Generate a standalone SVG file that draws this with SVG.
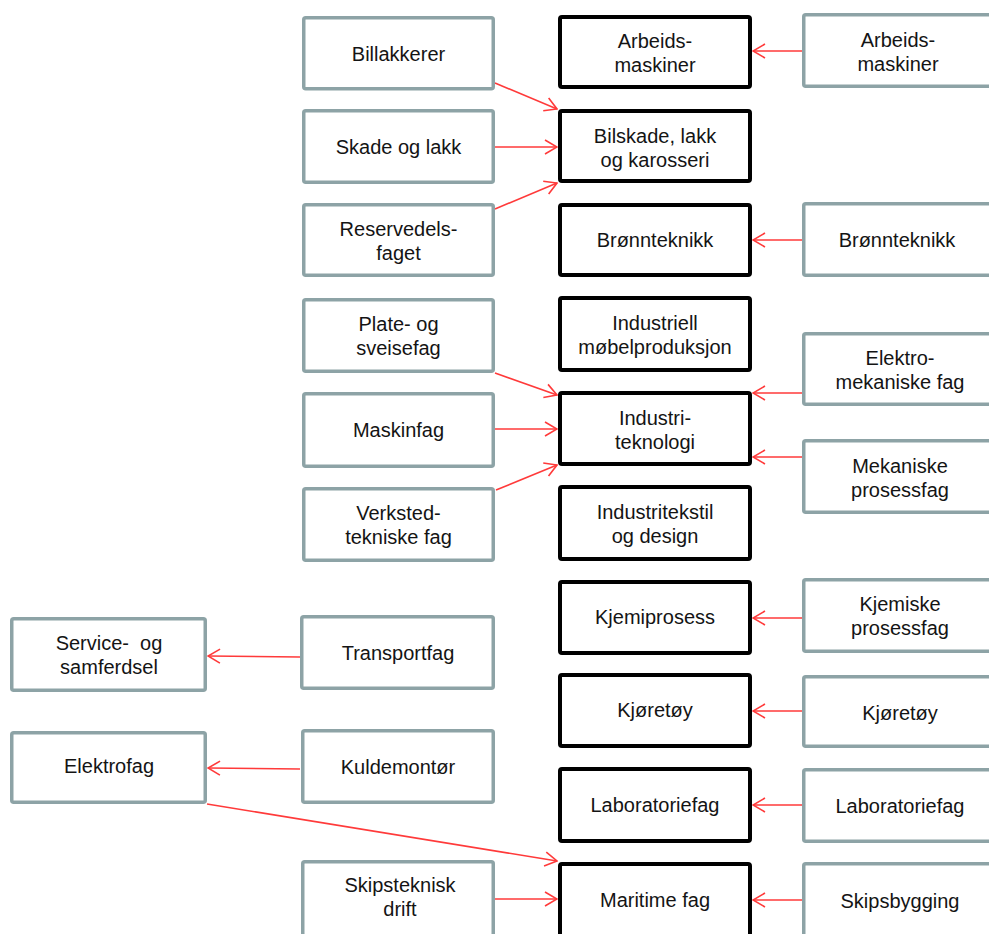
<svg xmlns="http://www.w3.org/2000/svg" width="989" height="934" viewBox="0 0 989 934">
<defs>
<style>
.g{fill:#fff;stroke:#8DA3A6;stroke-width:3.5}
.b{fill:#fff;stroke:#000;stroke-width:4}
.t{font-family:"Liberation Sans",Arial,sans-serif;font-size:20px;fill:#141414;text-anchor:middle}
.c{stroke:#FF3A3A;stroke-width:1.6;fill:none}
</style>
<marker id="ah" markerUnits="userSpaceOnUse" viewBox="0 0 14 16" refX="13" refY="8" markerWidth="14" markerHeight="16" orient="auto">
<path d="M1,1 L13,8 L1,15" fill="none" stroke="#FF3A3A" stroke-width="1.6"/>
</marker>
</defs>
<rect width="989" height="934" fill="#fff"/>

<g id="connectors">
<line class="c" x1="802" y1="51" x2="753" y2="51" marker-end="url(#ah)"/>
<line class="c" x1="495" y1="83" x2="557" y2="109" marker-end="url(#ah)"/>
<line class="c" x1="495" y1="147" x2="557" y2="147" marker-end="url(#ah)"/>
<line class="c" x1="495" y1="209" x2="557" y2="183" marker-end="url(#ah)"/>
<line class="c" x1="802" y1="240" x2="753" y2="240" marker-end="url(#ah)"/>
<line class="c" x1="495" y1="373" x2="557" y2="395" marker-end="url(#ah)"/>
<line class="c" x1="495" y1="429" x2="557" y2="429" marker-end="url(#ah)"/>
<line class="c" x1="496" y1="490" x2="557" y2="465" marker-end="url(#ah)"/>
<line class="c" x1="802" y1="393" x2="753" y2="393" marker-end="url(#ah)"/>
<line class="c" x1="802" y1="457" x2="753" y2="457" marker-end="url(#ah)"/>
<line class="c" x1="802" y1="618" x2="753" y2="618" marker-end="url(#ah)"/>
<line class="c" x1="802" y1="711" x2="753" y2="711" marker-end="url(#ah)"/>
<line class="c" x1="802" y1="805" x2="753" y2="805" marker-end="url(#ah)"/>
<line class="c" x1="802" y1="900" x2="753" y2="900" marker-end="url(#ah)"/>
<line class="c" x1="300" y1="657" x2="208" y2="656" marker-end="url(#ah)"/>
<line class="c" x1="300" y1="769" x2="208" y2="768" marker-end="url(#ah)"/>
<line class="c" x1="207" y1="804" x2="557" y2="861" marker-end="url(#ah)"/>
<line class="c" x1="495" y1="899" x2="557" y2="899" marker-end="url(#ah)"/>
</g>

<g id="billakkerer"><rect class="g" x="303.75" y="17.75" width="189.5" height="71" rx="2"/><text class="t" x="398.5" y="61">Billakkerer</text></g>
<g id="skade-og-lakk"><rect class="g" x="303.75" y="110.75" width="189.5" height="71.5" rx="2"/><text class="t" x="398.5" y="154">Skade og lakk</text></g>
<g id="reservedelsfaget"><rect class="g" x="303.75" y="204.75" width="189.5" height="70.5" rx="2"/><text class="t" x="398.5" y="236">Reservedels-</text><text class="t" x="398.5" y="260">faget</text></g>
<g id="plate-og-sveisefag"><rect class="g" x="303.75" y="299.75" width="189.5" height="71.5" rx="2"/><text class="t" x="398.5" y="331">Plate- og</text><text class="t" x="398.5" y="355">sveisefag</text></g>
<g id="maskinfag"><rect class="g" x="303.75" y="393.75" width="189.5" height="72.5" rx="2"/><text class="t" x="398.5" y="437">Maskinfag</text></g>
<g id="verkstedtekniske-fag"><rect class="g" x="303.75" y="488.75" width="189.5" height="71.5" rx="2"/><text class="t" x="398.5" y="520">Verksted-</text><text class="t" x="398.5" y="544">tekniske fag</text></g>
<g id="transportfag"><rect class="g" x="301.75" y="616.75" width="191.5" height="71.5" rx="2"/><text class="t" x="398" y="660">Transportfag</text></g>
<g id="kuldemontor"><rect class="g" x="302.75" y="730.75" width="190.5" height="71.5" rx="2"/><text class="t" x="398" y="774">Kuldemontør</text></g>
<g id="skipsteknisk-drift"><rect class="g" x="302.75" y="861.75" width="190.5" height="74" rx="2"/><text class="t" x="400" y="892">Skipsteknisk</text><text class="t" x="400" y="916">drift</text></g>

<g id="service-og-samferdsel"><rect class="g" x="11.75" y="618.75" width="193.5" height="71.5" rx="2"/><text class="t" x="109" y="650" style="white-space:pre">Service-  og</text><text class="t" x="109" y="674">samferdsel</text></g>
<g id="elektrofag"><rect class="g" x="11.75" y="732.75" width="193.5" height="69.5" rx="2"/><text class="t" x="109" y="773">Elektrofag</text></g>

<g id="arbeidsmaskiner"><rect class="b" x="560" y="17" width="190" height="70" rx="2"/><text class="t" x="655" y="48">Arbeids-</text><text class="t" x="655" y="72">maskiner</text></g>
<g id="bilskade"><rect class="b" x="560" y="111" width="190" height="70" rx="2"/><text class="t" x="655" y="143">Bilskade, lakk</text><text class="t" x="655" y="167">og karosseri</text></g>
<g id="bronnteknikk"><rect class="b" x="560" y="205" width="190" height="70" rx="2"/><text class="t" x="655" y="247">Brønnteknikk</text></g>
<g id="industriell-mobelproduksjon"><rect class="b" x="560" y="298" width="190" height="72" rx="2"/><text class="t" x="655" y="330">Industriell</text><text class="t" x="655" y="354">møbelproduksjon</text></g>
<g id="industriteknologi"><rect class="b" x="560" y="393" width="190" height="71" rx="2"/><text class="t" x="655" y="425">Industri-</text><text class="t" x="655" y="449">teknologi</text></g>
<g id="industritekstil"><rect class="b" x="560" y="487" width="190" height="72" rx="2"/><text class="t" x="655" y="519">Industritekstil</text><text class="t" x="655" y="543">og design</text></g>
<g id="kjemiprosess"><rect class="b" x="560" y="582" width="190" height="71" rx="2"/><text class="t" x="655" y="624">Kjemiprosess</text></g>
<g id="kjoretoy"><rect class="b" x="560" y="675" width="190" height="71" rx="2"/><text class="t" x="655" y="717">Kjøretøy</text></g>
<g id="laboratoriefag"><rect class="b" x="560" y="769" width="190" height="72" rx="2"/><text class="t" x="655" y="812">Laboratoriefag</text></g>
<g id="maritime-fag"><rect class="b" x="560" y="864" width="190" height="74" rx="2"/><text class="t" x="655" y="907">Maritime fag</text></g>

<g id="r-arbeidsmaskiner"><rect class="g" x="803.75" y="14.75" width="195" height="71.5" rx="2"/><text class="t" x="898" y="47">Arbeids-</text><text class="t" x="898" y="71">maskiner</text></g>
<g id="r-bronnteknikk"><rect class="g" x="803.75" y="203.75" width="195" height="71.5" rx="2"/><text class="t" x="897" y="247">Brønnteknikk</text></g>
<g id="r-elektromekaniske"><rect class="g" x="803.75" y="333.75" width="195" height="70.5" rx="2"/><text class="t" x="900" y="365">Elektro-</text><text class="t" x="900" y="389">mekaniske fag</text></g>
<g id="r-mekaniske-prosessfag"><rect class="g" x="803.75" y="440.75" width="195" height="71.5" rx="2"/><text class="t" x="900" y="473">Mekaniske</text><text class="t" x="900" y="497">prosessfag</text></g>
<g id="r-kjemiske-prosessfag"><rect class="g" x="803.75" y="579.75" width="195" height="71.5" rx="2"/><text class="t" x="900" y="611">Kjemiske</text><text class="t" x="900" y="635">prosessfag</text></g>
<g id="r-kjoretoy"><rect class="g" x="803.75" y="676.75" width="195" height="69.5" rx="2"/><text class="t" x="900" y="720">Kjøretøy</text></g>
<g id="r-laboratoriefag"><rect class="g" x="803.75" y="769.75" width="195" height="71.5" rx="2"/><text class="t" x="900" y="813">Laboratoriefag</text></g>
<g id="r-skipsbygging"><rect class="g" x="803.75" y="863.75" width="195" height="74" rx="2"/><text class="t" x="900" y="908">Skipsbygging</text></g>
</svg>
